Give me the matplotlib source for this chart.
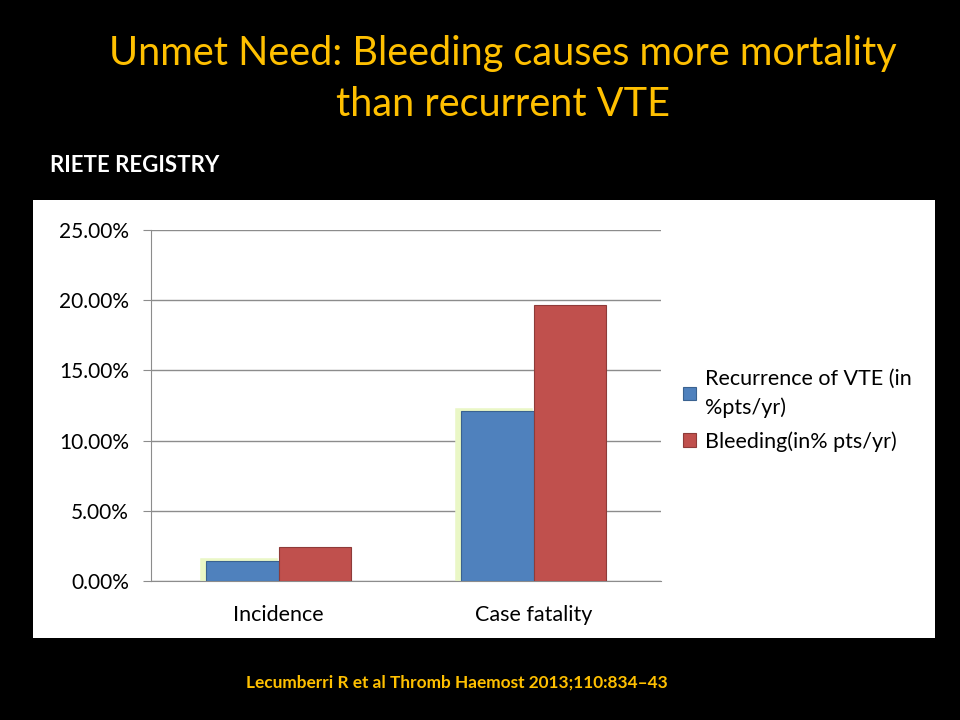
import matplotlib
matplotlib.use('Agg')
import matplotlib.pyplot as plt
from matplotlib.ticker import FuncFormatter
import numpy as np

plt.rcParams['font.family'] = ['Lato', 'DejaVu Sans']

categories = ['Incidence', 'Case fatality']
series_names = ['Recurrence of VTE (in\n%pts/yr)', 'Bleeding(in% pts/yr)']
recurrence = [1.4, 12.1]
bleeding = [2.45, 19.65]
yticks = [0, 5, 10, 15, 20, 25]

blue = '#4f81bd'
red = '#c0504d'
orange = '#ffc000'

fig = plt.figure(figsize=(9.6, 7.2), dpi=100, facecolor='black')

# white chart box
bg = fig.add_axes([33 / 960, 1 - 638 / 720, 902 / 960, 438 / 720], zorder=-1)
bg.set_facecolor('white')
bg.set_xticks([])
bg.set_yticks([])
for s in bg.spines.values():
    s.set_visible(False)

ax = fig.add_axes([151 / 960, 1 - 581 / 720, 510 / 960, 351 / 720])
ax.set_facecolor('white')

x = np.arange(len(categories))
w = 0.286

# soft glow behind blue bars
ax.bar(x - w / 2 - 0.012, recurrence, w, color='#dff3ad', edgecolor='#eaf7c6', linewidth=4, zorder=2)
b1 = ax.bar(x - w / 2, recurrence, w, color=blue, edgecolor='#3a6290', linewidth=0.8, zorder=3, label=series_names[0])
b2 = ax.bar(x + w / 2, bleeding, w, color=red, edgecolor='#8e3b39', linewidth=0.8, zorder=3, label=series_names[1])

ax.set_xlim(-0.5, 1.5)
ax.set_ylim(0, 25)
ax.set_yticks(yticks)
ax.yaxis.set_major_formatter(FuncFormatter(lambda v, p: '{:.2f}%'.format(v)))
ax.set_xticks(x)
ax.set_xticklabels(categories)
ax.grid(axis='y', color='#8c8c8c', linewidth=1.0, zorder=1)
ax.set_axisbelow(True)
for s in ['top', 'right']:
    ax.spines[s].set_visible(False)
ax.spines['left'].set_color('#8c8c8c')
ax.spines['bottom'].set_color('#8c8c8c')
ax.tick_params(axis='y', length=6, color='#8c8c8c', labelsize=15, pad=10)
ax.tick_params(axis='x', length=0, labelsize=15.5, pad=17)

leg = fig.legend(handles=[b1, b2], loc='center left', bbox_to_anchor=(664 / 960, 1 - 410 / 720),
                 frameon=False, fontsize=15.5, handlelength=0.6, handleheight=0.6, handletextpad=0.4,
                 labelspacing=0.6)
for t in leg.get_texts():
    t.set_linespacing(1.55)

fig.text(503 / 960, 1 - 53 / 720, 'Unmet Need: Bleeding causes more mortality', color=orange,
         fontsize=28.5, ha='center', va='center')
fig.text(503 / 960, 1 - 104 / 720, 'than recurrent VTE', color=orange,
         fontsize=28.5, ha='center', va='center')
fig.text(50 / 960, 1 - 166 / 720, 'RIETE REGISTRY', color='white', fontsize=16,
         fontweight='bold', ha='left', va='center')
fig.text(457 / 960, 1 - 683 / 720, 'Lecumberri R et al Thromb Haemost 2013;110:834\u201343', color=orange,
         fontsize=12.4, fontweight='bold', ha='center', va='center')

fig.savefig('out.png', dpi=100, facecolor='black')
